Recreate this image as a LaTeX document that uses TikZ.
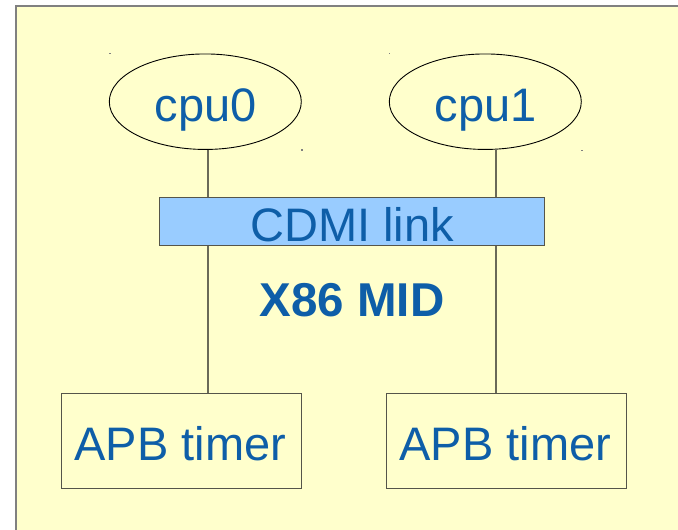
\documentclass[tikz,border=0pt]{standalone}
\usepackage{fontspec}
\setmainfont{Liberation Sans}
\usetikzlibrary{shapes.geometric}
\definecolor{pagebg}{HTML}{FFFFCC}
\definecolor{frameline}{HTML}{808080}
\definecolor{boxline}{HTML}{55554A}
\definecolor{wireline}{HTML}{6A6A58}
\definecolor{linkfill}{HTML}{99CCFF}
\definecolor{labelblue}{HTML}{0E5EA8}
\tikzset{
  cpunode/.style={ellipse, draw=black, line width=0.9pt, minimum width=192pt, minimum height=95.5pt, inner sep=0pt},
  boxnode/.style={rectangle, draw=boxline, line width=1.4pt, inner sep=0pt},
  linknode/.style={boxnode, fill=linkfill},
  timernode/.style={boxnode, minimum width=240pt, minimum height=95.4pt},
  txt/.style={anchor=base, inner sep=0pt, text=labelblue, font=\fontsize{47}{56}\selectfont},
  boldtxt/.style={txt, font=\fontsize{47.5}{56}\selectfont\bfseries},
  wire/.style={draw=wireline, line width=2pt},
  handle/.style={fill=frameline, inner sep=0pt, minimum size=1.2pt, rectangle}
}
\begin{document}
\begin{tikzpicture}[x=1pt, y=-1pt]
  \useasboundingbox (0,0) rectangle (678,530);
  % page area with its frame running off the right and bottom edges
  \begin{scope}
    \clip (0,0) rectangle (678,530);
    \draw[fill=pagebg, draw=frameline, line width=2pt] (16,6) rectangle (700,560);
  \end{scope}

  % processors
  \node[cpunode] (cpu0) at (205.3,101.7) {};
  \node[cpunode] (cpu1) at (485.3,101.7) {};
  \node[txt] (cpu0txt) at (205.5,121.7) {cpu0};
  \node[txt] (cpu1txt) at (485.5,121.7) {cpu1};

  % interconnect bar
  \node[linknode, minimum width=385pt, minimum height=48pt] (cdmi) at (351.8,221.7) {};
  \node[txt] (cdmitxt) at (352,241.7) {CDMI link};

  % platform label
  \node[boldtxt] (mid) at (352,316.7) {X86 MID};

  % timers
  \node[timernode] (apb0) at (181.3,441) {};
  \node[timernode] (apb1) at (506.3,441) {};
  \node[txt] (apb0txt) at (180.3,460.7) {APB timer};
  \node[txt] (apb1txt) at (505.3,460.7) {APB timer};

  % connectors
  \coordinate (c0top) at (207.5,149.6);
  \coordinate (c1top) at (495.5,149.4);
  \draw[wire] (c0top) -- (c0top |- cdmi.north);
  \draw[wire] (c1top) -- (c1top |- cdmi.north);
  \draw[wire] (c0top |- cdmi.south) -- (c0top |- apb0.north);
  \draw[wire] (c1top |- cdmi.south) -- (c1top |- apb1.north);

  % selection handle marks at the ellipse corners
  \node[handle] (h0a) at (110,53.5) {};
  \node[handle] (h0b) at (302,150) {};
  \node[handle] (h1a) at (389.7,53.7) {};
  \node[handle] (h1b) at (582,150.3) {};
\end{tikzpicture}
\end{document}
